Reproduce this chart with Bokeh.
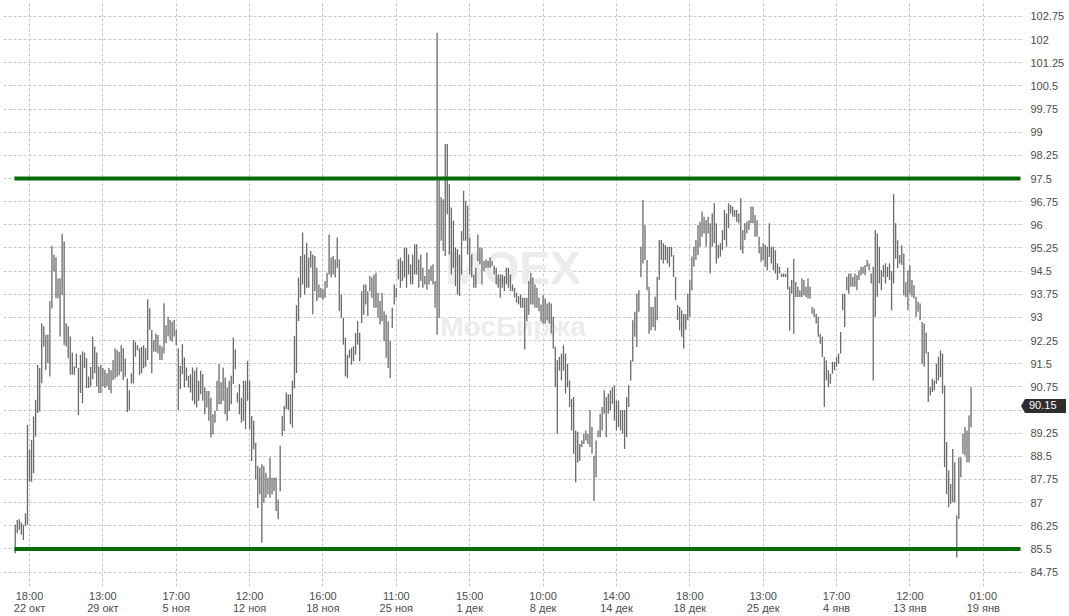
from bokeh.plotting import figure
from bokeh.models import Range1d, FixedTicker, Label, NumeralTickFormatter, ColumnDataSource
from bokeh.embed import file_html
from bokeh.resources import INLINE

# ---- data ----
high = [
86.28,86.44,86.46,86.36,86.28,86.66,89.52,88.71,89.03,89.79,
90.33,91.46,91.36,92.81,92.71,92.44,92.44,93.52,95.32,95.03,
94.95,94.27,94.27,95.71,95.46,92.81,92.71,92.38,91.86,91.41,
91.82,91.36,91.79,91.90,91.86,91.68,91.09,91.39,92.38,92.06,
91.86,91.41,91.46,91.36,91.30,91.19,91.36,91.29,91.62,92.00,
91.94,91.89,92.10,92.00,91.67,91.02,90.64,91.19,92.27,92.21,
92.10,92.00,92.05,92.10,92.00,93.59,93.30,92.59,92.27,92.48,
92.43,92.10,92.05,93.46,92.75,93.02,92.92,92.86,92.92,92.60,
92.00,91.43,92.14,91.70,91.38,91.10,91.16,91.38,91.27,91.38,
90.95,91.27,91.16,90.73,90.62,90.62,90.40,89.86,89.97,90.95,
91.49,90.90,91.38,91.05,90.73,90.95,91.11,92.35,91.97,90.57,
90.84,90.40,90.95,90.95,91.60,90.95,89.81,89.65,88.94,88.19,
88.13,88.24,88.19,87.97,87.81,88.46,87.81,87.81,87.81,87.10,
88.84,89.81,90.13,90.57,90.50,90.51,90.95,92.40,93.40,94.29,
94.99,95.75,95.04,95.42,94.94,95.15,95.04,94.99,94.61,94.07,
93.96,93.91,94.18,94.45,95.69,94.94,94.99,94.88,95.59,94.88,
93.74,92.99,92.34,91.79,91.96,92.01,92.07,92.50,92.88,92.50,
93.85,94.07,94.07,93.85,94.34,94.29,94.39,94.45,93.80,93.53,
93.80,93.20,93.09,92.88,92.23,93.31,94.07,93.96,94.88,94.94,
94.83,95.26,95.26,95.04,94.72,95.04,95.37,95.37,94.88,95.04,
94.61,94.34,95.10,94.56,94.67,94.72,94.18,102.22,97.45,96.89,
96.83,98.62,98.62,97.32,96.56,96.13,95.26,95.21,95.04,95.80,
97.10,96.78,96.62,95.59,95.04,94.39,94.61,95.69,95.26,95.26,
94.83,94.88,94.83,94.94,94.83,94.67,94.61,94.39,94.39,94.39,
94.34,94.61,94.61,94.39,94.07,93.96,93.80,93.69,93.74,93.64,
93.64,93.64,94.18,94.45,94.29,94.07,93.96,93.64,93.42,93.72,
93.61,93.45,93.50,93.45,93.02,92.04,91.61,91.72,91.83,92.10,
91.83,91.50,90.96,90.36,90.42,89.34,89.30,88.90,89.01,89.23,
89.34,89.23,90.00,89.45,88.52,89.01,89.34,89.88,90.10,90.64,
90.42,90.53,90.64,90.74,90.80,90.31,90.31,90.00,90.00,90.00,
90.42,90.80,91.61,92.91,93.18,93.77,93.88,95.29,96.80,95.99,
94.86,93.99,93.34,93.34,93.67,94.31,95.51,95.51,95.40,95.35,
95.29,95.29,95.29,95.02,94.31,93.40,93.34,93.23,93.12,93.10,
93.77,94.21,94.97,95.29,95.51,95.99,96.10,96.43,96.26,96.15,
96.26,96.05,96.37,96.70,96.05,95.35,95.40,95.83,96.48,96.37,
96.70,96.64,96.59,96.48,96.48,96.37,96.86,95.83,96.05,96.10,
96.15,96.59,96.59,96.32,96.15,95.61,95.29,95.40,95.35,95.29,
96.05,95.29,95.29,95.18,94.75,94.64,94.42,94.42,94.42,94.60,
93.99,94.21,94.90,94.15,93.99,93.88,94.26,94.21,93.99,94.26,
93.99,93.34,93.29,93.12,93.02,92.47,92.37,91.72,91.61,91.29,
91.18,91.56,91.56,91.72,91.83,92.53,93.77,93.77,94.31,94.42,
94.42,94.31,94.42,94.37,94.53,94.64,94.64,94.70,94.86,94.75,
94.42,94.64,95.83,95.72,95.29,94.53,94.70,94.75,94.64,94.75,
94.50,97.00,96.05,95.50,95.02,95.34,95.07,94.15,94.53,94.69,
94.21,94.04,93.67,93.51,93.45,92.85,92.80,92.50,91.88,90.74,
91.01,90.96,91.50,91.72,91.93,91.83,90.80,88.96,88.04,87.60,
88.74,88.31,86.58,88.47,88.47,89.23,89.45,89.34,89.82,90.74,
]

low = [
85.36,86.01,86.12,85.96,85.79,86.25,86.28,87.68,87.68,87.95,
89.14,89.90,89.95,90.87,92.06,91.30,91.52,91.09,93.30,94.49,
93.62,93.62,92.38,93.73,92.11,92.06,91.68,91.14,91.14,91.14,
91.36,89.84,90.55,90.22,91.36,90.71,90.71,90.76,91.00,91.19,
90.76,90.55,90.55,90.76,90.71,90.76,90.65,90.54,90.97,91.02,
91.08,91.13,91.24,90.97,91.08,89.94,90.00,90.86,90.86,91.73,
91.94,91.13,91.19,91.35,91.40,91.62,92.59,91.19,91.89,91.89,
91.83,91.62,91.62,91.83,92.16,92.38,92.27,92.21,92.38,92.10,
90.00,90.68,91.16,90.73,90.95,90.73,90.57,90.30,90.19,90.08,
90.30,90.51,90.30,89.86,90.08,89.65,89.11,89.21,89.59,89.97,
90.19,90.19,90.30,89.86,89.65,89.97,90.19,90.84,91.32,90.24,
89.86,89.59,89.65,89.38,90.30,89.38,88.35,88.73,87.76,86.83,
87.27,85.70,87.00,87.16,87.27,87.16,87.27,87.38,86.73,86.46,
87.37,89.16,89.32,90.03,90.00,89.54,89.43,90.70,91.20,92.88,
93.64,94.07,93.74,93.96,93.96,94.61,93.10,93.85,93.53,93.64,
93.64,93.58,93.64,93.96,94.39,94.29,94.39,94.29,94.61,93.20,
92.99,92.12,91.09,91.04,91.69,91.47,91.58,91.79,92.12,91.58,
92.82,93.09,93.42,93.04,93.85,93.64,93.31,93.31,92.99,92.77,
92.88,92.23,91.69,91.36,91.04,92.66,93.42,93.64,94.23,93.96,
94.18,94.29,93.96,94.39,94.07,94.07,94.39,94.39,93.96,94.18,
93.96,94.07,93.90,94.07,94.18,94.07,93.31,92.44,92.99,95.48,
95.15,94.99,96.34,95.04,94.39,94.61,94.01,93.74,93.69,94.39,
95.48,95.48,95.04,94.39,94.29,93.96,93.96,94.83,94.72,94.07,
94.50,94.61,94.61,94.61,94.67,94.39,94.07,93.96,93.64,93.96,
93.85,94.07,93.96,93.85,93.85,93.64,93.47,93.42,93.31,93.31,
91.96,92.88,93.09,93.42,93.42,93.31,93.31,93.20,92.88,92.80,
92.80,92.90,92.80,92.48,91.99,90.74,89.23,91.28,90.96,91.28,
90.53,90.74,90.10,89.34,88.58,87.66,88.30,88.36,88.80,88.90,
89.01,88.90,88.80,88.58,87.06,87.82,89.12,89.12,89.34,89.88,
89.12,89.88,89.99,90.20,89.66,89.34,89.45,89.34,89.23,88.74,
89.12,90.10,90.96,91.56,92.37,92.04,93.18,94.31,94.75,94.86,
93.88,92.47,92.58,92.69,92.58,92.91,94.21,94.86,94.75,94.86,
94.75,94.64,94.97,94.31,93.56,92.91,92.58,92.37,91.99,92.60,
92.91,93.02,93.88,94.64,94.86,95.02,95.29,95.61,95.72,95.29,
95.72,94.42,95.29,95.40,94.75,94.91,94.97,95.18,95.51,95.29,
95.90,96.37,96.26,96.26,96.10,96.05,95.18,95.07,95.51,95.72,
95.83,96.05,96.05,95.61,95.61,95.07,94.80,94.86,94.64,94.53,
94.96,94.75,94.53,94.42,94.21,94.42,94.31,94.31,94.31,93.90,
92.58,93.77,92.47,93.66,93.66,93.66,93.66,93.72,93.66,93.61,
93.61,93.12,93.02,92.80,92.37,92.15,91.72,90.10,90.96,90.74,
90.85,91.18,91.29,91.40,91.50,91.83,93.23,92.69,93.88,93.77,
93.99,93.99,93.99,93.88,94.21,94.37,94.42,94.37,94.64,94.53,
94.10,90.96,93.02,93.67,94.10,93.88,94.31,94.10,94.31,94.21,
93.23,94.10,94.90,94.60,94.75,94.70,93.72,93.66,93.23,93.77,
93.67,93.61,93.02,93.18,92.91,91.50,91.40,91.83,90.26,90.47,
90.58,90.64,90.85,90.96,91.07,90.53,88.15,87.28,86.85,86.96,
87.01,87.01,85.22,86.47,87.82,88.58,88.53,88.31,88.31,89.44,
]

tick_index = [7, 43, 79, 115, 151, 187, 223, 259, 295, 331, 367, 403, 439, 475]
tick_time = ["18:00", "13:00", "17:00", "12:00", "16:00", "11:00", "15:00",
             "10:00", "14:00", "18:00", "13:00", "17:00", "12:00", "01:00"]
tick_date = ["22 окт", "29 окт", "5 ноя", "12 ноя", "18 ноя", "25 ноя", "1 дек",
             "8 дек", "14 дек", "18 дек", "25 дек", "4 янв", "13 янв", "19 янв"]
y_ticks = [84.75, 85.5, 86.25, 87.0, 87.75, 88.5, 89.25, 90.0, 90.75, 91.5, 92.25,
           93.0, 93.75, 94.5, 95.25, 96.0, 96.75, 97.5, 98.25, 99.0, 99.75,
           100.5, 101.25, 102.0, 102.75]
levels = [97.5, 85.5]
last_close = 90.15

# ---- figure ----
n = min(len(high), len(low))
idx = list(range(n))
src = ColumnDataSource(dict(x=idx, high=high[:n], low=low[:n]))

W, H = 1069, 616
BL, BR, BT, BB = 3, 47, 0, 29
x_start, x_end = -5.76, 494.24
y_start, y_end = 84.283, 103.267

p = figure(width=W, height=H, output_backend="svg", toolbar_location=None,
           x_range=Range1d(x_start, x_end), y_range=Range1d(y_start, y_end),
           y_axis_location="right",
           min_border_left=BL, min_border_right=BR, min_border_top=BT, min_border_bottom=BB,
           outline_line_color=None, background_fill_color="white", border_fill_color="white")

FONT = "Liberation Sans"
LBL = "#4d4d4d"

# x axis
xa = p.xaxis[0]
xa.ticker = FixedTicker(ticks=tick_index)
xa.major_label_overrides = {t: f"{a}\n{b}" for t, a, b in zip(tick_index, tick_time, tick_date)}
xa.axis_line_color = None
xa.major_tick_line_color = None
xa.minor_tick_line_color = None
xa.major_tick_out = 0
xa.major_tick_in = 0
xa.major_label_standoff = 3
xa.major_label_text_font = FONT
xa.major_label_text_font_size = "11px"
xa.major_label_text_line_height = 1.0
xa.major_label_text_color = LBL

# y axis (right)
ya = p.yaxis[0]
ya.ticker = FixedTicker(ticks=y_ticks)
ya.formatter = NumeralTickFormatter(format="0.[00]")
ya.major_label_overrides = {90.0: ""}   # hidden under the price tag
ya.axis_line_color = None
ya.major_tick_line_color = None
ya.minor_tick_line_color = None
ya.major_tick_out = 0
ya.major_tick_in = 0
ya.major_label_standoff = 8
ya.major_label_text_font = FONT
ya.major_label_text_font_size = "11px"
ya.major_label_text_color = LBL

for g in (p.xgrid[0], p.ygrid[0]):
    g.grid_line_color = "#c6c6c6"
    g.grid_line_dash = "3 2"
    g.grid_line_width = 1

# watermark
xc = (x_start + x_end) / 2
yc = (y_start + y_end) / 2
p.add_layout(Label(x=xc, y=yc, text="MOEX", text_font=FONT, text_font_style="bold",
                   text_font_size="46px", text_color="#ececec", text_align="center",
                   text_baseline="middle", y_offset=26, level="underlay"))
p.add_layout(Label(x=xc, y=yc, text="МосБиржа", text_font=FONT, text_font_style="bold",
                   text_font_size="28px", text_color="#ececec", text_align="center",
                   text_baseline="middle", y_offset=-33, level="underlay"))

# bars (high-low)
p.segment(x0="x", y0="low", x1="x", y1="high", source=src,
          line_color="#6a6a6a", line_width=1.3)

# support / resistance lines
p.segment(x0=[idx[0] - 0.4] * len(levels), x1=[x_end - 1.0] * len(levels),
          y0=levels, y1=levels, line_color="#0a6a0a", line_width=4, line_cap="butt")

# ---- page ----
html = file_html(p, INLINE, title="chart")

# last-price tag sits in the axis gutter (outside the plot frame, where Bokeh clips
# annotations), so it is placed on the page at the y of last_close on the same y scale
frame_h = H - BT - BB
tag_y = BT + (y_end - last_close) / (y_end - y_start) * frame_h
tag_x = W - BR
tag_h = 14
tag_html = (
    f'<div style="position:absolute;left:{tag_x - 1}px;top:{tag_y - tag_h / 2:.1f}px;'
    f'width:0;height:0;border-top:{tag_h / 2}px solid transparent;'
    f'border-bottom:{tag_h / 2}px solid transparent;border-right:4px solid #2e2e2e;z-index:10"></div>'
    f'<div style="position:absolute;left:{tag_x + 3}px;top:{tag_y - tag_h / 2:.1f}px;'
    f'height:{tag_h}px;line-height:{tag_h}px;padding:0 9px 0 4px;background:#2e2e2e;color:#fff;'
    f'font:11px \'{FONT}\',sans-serif;z-index:10">{last_close:.2f}</div>'
)
html = html.replace("<head>", "<head><style>html,body{margin:0;padding:0;overflow:hidden}</style>", 1)
html = html.replace("</body>", tag_html + "</body>", 1)
open("out.html", "w", encoding="utf-8").write(html)
